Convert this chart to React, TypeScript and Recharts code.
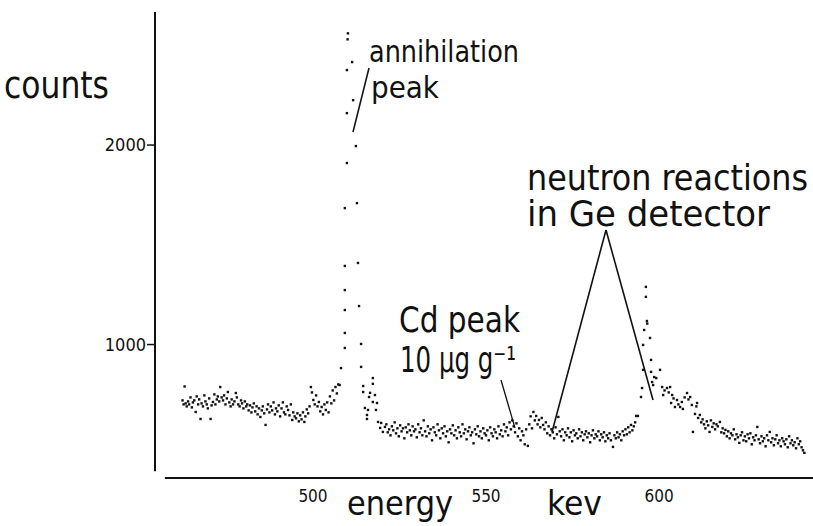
import React from 'react';
import { ScatterChart, Scatter, XAxis, YAxis, ReferenceLine } from 'recharts';

// ---- data: [energy keV, counts] ----
const lowSide: [number, number][] = [
  [462.3, 720], [462.6, 700], [462.9, 790], [463.2, 705], [463.5, 690], [463.9, 715], [464.2, 700], [464.6, 735],
  [465.0, 685], [465.3, 710], [465.7, 720], [466.1, 662], [466.4, 740], [466.8, 700], [467.1, 725], [467.5, 627],
  [467.8, 705], [468.2, 690], [468.6, 745], [468.9, 715], [469.3, 700], [469.6, 680], [470.0, 730], [470.4, 627],
  [470.7, 695], [471.1, 712], [471.5, 750], [471.8, 700], [472.2, 725], [472.5, 740], [472.9, 715], [473.2, 787],
  [473.6, 735], [474.0, 720], [474.3, 745], [474.7, 700], [475.1, 730], [475.4, 762], [475.8, 710], [476.2, 690],
  [476.5, 725], [476.9, 700], [477.3, 715], [477.7, 757], [478.0, 735], [478.4, 700], [478.8, 690], [479.2, 720],
  [479.5, 705], [479.9, 680], [480.3, 715], [480.7, 690], [481.0, 700], [481.4, 670], [481.8, 695], [482.2, 660],
  [482.5, 685], [482.9, 705], [483.3, 665], [483.7, 690], [484.0, 650], [484.4, 680], [484.8, 637], [485.2, 670],
  [485.5, 690], [485.9, 655], [486.3, 597], [486.7, 675], [487.0, 700], [487.4, 660], [487.8, 690], [488.2, 670],
  [488.6, 710], [489.0, 650], [489.3, 680], [489.7, 665], [490.1, 695], [490.5, 640], [490.9, 680], [491.3, 710],
  [491.6, 660], [492.0, 650], [492.4, 690], [492.8, 672], [493.2, 645], [493.6, 700], [494.0, 622], [494.3, 660],
  [494.7, 640], [495.1, 630], [495.5, 655], [495.9, 615], [496.3, 645], [496.7, 625], [497.1, 660], [497.5, 612],
  [497.8, 640], [498.2, 675], [498.6, 655], [499.0, 690], [499.4, 787], [499.7, 760], [500.1, 722], [500.5, 700],
  [500.9, 745], [501.3, 690], [501.7, 712], [502.1, 665], [502.5, 687], [502.9, 650], [503.3, 700], [503.7, 672],
  [504.1, 710], [504.5, 660], [504.9, 740], [505.3, 705], [505.7, 770], [506.1, 720], [506.5, 787], [506.9, 755],
  [507.3, 800], [507.7, 797],
];

const annihilationPeak: [number, number][] = [
  [508.1, 882], [509.2, 983], [509.2, 1058], [509.2, 1173], [509.2, 1273], [509.2, 1394], [509.2, 1684],
  [509.8, 1910], [509.8, 2160], [509.8, 2376], [510.0, 2530], [510.1, 2560], [511.3, 2416], [511.6, 2225],
  [512.4, 1995], [512.7, 1709], [513.0, 1409], [513.3, 1193], [513.9, 1003], [513.9, 888],
];

const peakTail: [number, number][] = [
  [514.5, 792], [514.5, 762], [515.0, 682], [515.6, 627], [515.6, 647], [515.9, 672], [516.2, 737], [516.5, 758],
  [517.3, 832], [517.3, 803], [517.3, 712], [517.9, 747], [518.5, 707], [518.2, 672], [518.8, 612], [519.4, 582],
  [519.7, 607], [520.2, 562], [520.8, 587],
];

const middle: [number, number][] = [
  [521.2, 600], [521.6, 560], [522.0, 575], [522.4, 545], [522.8, 590], [523.2, 570], [523.6, 610], [524.0, 555],
  [524.4, 580], [524.8, 540], [525.2, 595], [525.6, 565], [526.0, 580], [526.4, 530], [526.8, 585], [527.2, 560],
  [527.6, 600], [528.0, 570], [528.4, 545], [528.8, 590], [529.2, 565], [529.6, 575], [530.0, 535], [530.4, 600],
  [530.8, 560], [531.2, 580], [531.6, 545], [532.0, 620], [532.4, 565], [532.8, 540], [533.2, 590], [533.6, 555],
  [534.0, 575], [534.4, 520], [534.8, 585], [535.2, 560], [535.6, 545], [536.0, 600], [536.4, 570], [536.8, 530],
  [537.2, 580], [537.6, 555], [538.0, 590], [538.4, 540], [538.8, 565], [539.2, 510], [539.6, 575], [540.0, 555],
  [540.4, 595], [540.8, 545], [541.2, 570], [541.6, 530], [542.0, 585], [542.4, 560], [542.8, 540], [543.2, 600],
  [543.6, 555], [544.0, 575], [544.4, 525], [544.8, 565], [545.2, 585], [545.6, 545], [546.0, 560], [546.4, 505],
  [546.8, 575], [547.2, 550], [547.6, 590], [548.0, 540], [548.4, 565], [548.8, 530], [549.2, 580], [549.6, 555],
  [550.0, 545], [550.4, 570], [550.8, 520], [551.2, 585], [551.6, 555], [552.0, 540], [552.4, 575], [552.8, 560],
  [553.2, 530], [553.6, 590], [554.0, 550], [554.4, 570], [554.8, 540], [555.2, 600], [555.6, 565], [556.0, 585],
  [556.4, 545], [556.8, 610], [557.2, 575], [557.6, 620], [558.0, 590], [558.4, 560], [558.8, 605], [559.2, 540],
  [559.6, 580], [560.0, 520], [560.4, 565], [560.8, 545], [561.2, 500], [561.6, 575], [562.1, 492], [562.5, 600],
  [562.9, 640], [563.3, 580], [563.7, 662], [564.1, 620], [564.5, 642], [564.9, 600], [565.3, 622], [565.7, 585],
  [566.1, 632], [566.5, 597], [566.9, 575], [567.3, 610], [567.7, 555], [568.1, 590], [568.5, 545], [568.9, 575],
  [569.3, 560], [569.7, 530], [570.1, 585], [570.5, 550], [570.9, 637], [571.3, 565], [571.7, 540], [572.1, 575],
  [572.5, 520], [572.9, 560], [573.3, 545], [573.7, 580], [574.1, 535], [574.5, 560], [574.9, 515], [575.3, 570],
  [575.7, 545], [576.1, 555], [576.5, 530], [576.9, 575], [577.3, 540], [577.7, 560], [578.1, 520], [578.5, 550],
  [578.9, 565], [579.3, 535], [579.7, 555], [580.1, 510], [580.5, 545], [580.9, 570], [581.3, 530], [581.7, 550],
  [582.1, 540], [582.5, 565], [582.9, 520], [583.3, 550], [583.7, 535], [584.1, 560], [584.5, 515], [584.9, 545],
  [585.3, 530], [585.7, 555], [586.1, 520], [586.7, 487], [587.1, 545], [587.5, 530], [587.9, 560], [588.3, 535],
  [588.7, 550], [589.1, 520], [589.5, 565], [589.9, 545], [590.3, 575], [590.7, 550], [591.1, 585], [591.5, 560],
  [591.9, 597], [592.3, 570], [592.7, 590], [593.1, 610],
];

const gePeak: [number, number][] = [
  [593.4, 642], [593.9, 642], [594.8, 737], [595.1, 782], [595.4, 873], [595.4, 998], [595.7, 1073],
  [596.2, 1239], [596.2, 1289], [596.5, 1118], [596.6, 1105], [597.4, 1033], [597.7, 923], [597.7, 863],
];

const decay: [number, number][] = [
  [598.0, 812], [598.3, 797], [598.6, 837], [599.2, 832], [600.3, 873], [600.9, 787], [601.2, 747], [601.6, 770],
  [602.3, 782], [602.8, 760], [603.2, 787], [603.5, 707], [603.8, 747], [604.2, 730], [604.6, 687], [605.2, 722],
  [605.6, 700], [606.1, 687], [606.6, 712], [606.9, 677], [607.4, 735], [608.1, 757], [608.5, 725], [609.0, 737],
  [609.5, 697], [609.8, 562], [610.4, 652], [610.8, 690], [611.0, 707], [611.3, 632], [611.8, 647], [612.2, 610],
  [612.6, 625], [613.0, 600], [613.4, 580], [613.8, 615], [614.2, 595], [614.6, 562], [615.0, 620], [615.4, 587],
  [615.8, 605], [616.2, 575], [616.6, 600], [617.0, 590], [617.6, 612], [618.0, 560], [618.4, 580], [618.8, 555],
  [619.2, 572], [619.6, 540], [620.0, 565], [620.4, 530], [620.8, 555], [621.2, 545], [621.6, 575], [622.0, 525],
  [622.4, 550], [622.8, 535], [623.2, 507], [623.6, 545], [624.0, 560], [624.4, 520], [624.8, 540], [625.2, 515],
  [625.6, 550], [626.0, 530], [626.4, 555], [626.8, 500], [627.2, 535], [627.6, 520], [628.0, 545], [628.4, 587],
  [628.8, 525], [629.2, 505], [629.6, 540], [630.0, 515], [630.4, 530], [630.8, 490], [631.2, 545], [631.6, 520],
  [632.0, 562], [632.4, 510], [632.8, 530], [633.2, 495], [633.6, 525], [634.0, 545], [634.4, 505], [634.8, 520],
  [635.2, 490], [635.6, 530], [636.0, 515], [636.4, 500], [636.8, 525], [637.2, 485], [637.6, 540], [638.0, 505],
  [638.4, 520], [638.8, 495], [639.2, 510], [639.6, 480], [640.0, 530], [640.4, 500], [640.8, 515], [641.2, 485],
  [641.6, 470], [642.0, 457],
];

const xTicks = [500, 550, 600];
const yTicks = [1000, 2000];
const X_DOMAIN: [number, number] = [454.34, 644.5];
const Y_DOMAIN: [number, number] = [331, 2667];

const spectrum = [...lowSide, ...annihilationPeak, ...peakTail, ...middle, ...gePeak, ...decay].map(
  ([energy, counts]) => ({ energy, counts })
);

const FONT = '"DejaVu Sans Condensed", "DejaVu Sans", sans-serif';

const Dot = (props: any) => {
  const { cx, cy } = props;
  if (cx == null || cy == null) return null;
  return <rect x={cx - 1.2} y={cy - 1.2} width={2.4} height={2.4} fill="#111" />;
};

export default function App() {
  return (
    <div style={{ position: 'absolute', left: 0, top: 0, width: 813, height: 526, background: '#fff' }}>
      <ScatterChart width={813} height={526} margin={{ top: 12, right: 0, bottom: 0, left: 0 }}>
        <XAxis
          type="number"
          dataKey="energy"
          domain={X_DOMAIN}
          allowDataOverflow
          ticks={xTicks}
          height={48}
          axisLine={false}
          tickLine={false}
          tickSize={6}
          tickMargin={6}
          tick={{ fill: '#111', fontSize: 17, fontFamily: FONT }}
        />
        <YAxis
          type="number"
          dataKey="counts"
          domain={Y_DOMAIN}
          allowDataOverflow
          ticks={yTicks}
          width={155}
          axisLine={false}
          tickLine={{ stroke: '#111', strokeWidth: 1.5 }}
          tickSize={8}
          tickMargin={1}
          tick={{ fill: '#111', fontSize: 18, fontFamily: FONT }}
        />
        <ReferenceLine
          segment={[{ x: X_DOMAIN[0], y: Y_DOMAIN[1] }, { x: X_DOMAIN[0], y: 365 }]}
          stroke="#111"
          strokeWidth={2}
          ifOverflow="visible"
        />
        <ReferenceLine
          segment={[{ x: 457.2, y: Y_DOMAIN[0] }, { x: X_DOMAIN[1], y: Y_DOMAIN[0] }]}
          stroke="#111"
          strokeWidth={2.2}
          ifOverflow="visible"
        />
        <Scatter data={spectrum} isAnimationActive={false} shape={<Dot />} />
      </ScatterChart>
      <svg
        width={813}
        height={526}
        style={{ position: 'absolute', left: 0, top: 0, pointerEvents: 'none' }}
        fontFamily={FONT}
        fill="#111"
      >
        <text x={4} y={98} fontSize={37} textLength={105} lengthAdjust="spacingAndGlyphs">counts</text>
        <text x={369} y={62} fontSize={31} textLength={150} lengthAdjust="spacingAndGlyphs">annihilation</text>
        <text x={371} y={98} fontSize={31} textLength={68} lengthAdjust="spacingAndGlyphs">peak</text>
        <line x1={369} y1={68} x2={353} y2={132} stroke="#111" strokeWidth={1.6} />
        <text x={399} y={332} fontSize={36} textLength={121} lengthAdjust="spacingAndGlyphs">Cd peak</text>
        <text x={400} y={372} fontSize={36} textLength={116} lengthAdjust="spacingAndGlyphs">10 µg g⁻¹</text>
        <line x1={501} y1={380} x2={515} y2={428} stroke="#111" strokeWidth={1.3} />
        <text x={527} y={190} fontSize={35} textLength={281} lengthAdjust="spacingAndGlyphs">neutron reactions</text>
        <text x={527} y={226} fontSize={35} textLength={243} lengthAdjust="spacingAndGlyphs">in Ge detector</text>
        <line x1={606} y1={230} x2={552} y2={432} stroke="#111" strokeWidth={1.6} />
        <line x1={606} y1={230} x2={653} y2={400} stroke="#111" strokeWidth={1.6} />
        <text x={347} y={515} fontSize={33} textLength={106} lengthAdjust="spacingAndGlyphs">energy</text>
        <text x={547} y={515} fontSize={33} textLength={55} lengthAdjust="spacingAndGlyphs">kev</text>
      </svg>
    </div>
  );
}
